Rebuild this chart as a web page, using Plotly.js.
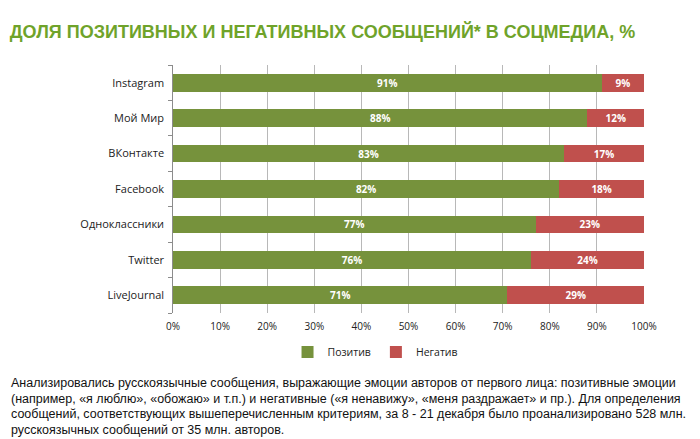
<!DOCTYPE html>
<html><head><meta charset="utf-8">
<script src="https://cdn.plot.ly/plotly-3.0.1.min.js"></script>
<style>body{margin:0;background:#fff}#c{width:700px;height:439px}</style>
</head><body><div id="c"></div>
<script>
const categories = ['Instagram','Мой Мир','ВКонтакте','Facebook','Одноклассники','Twitter','LiveJournal'];
const positive = [91, 88, 83, 82, 77, 76, 71];
const negative = [9, 12, 17, 18, 23, 24, 29];
const tickVals = [0,10,20,30,40,50,60,70,80,90,100];
const tickText = tickVals.map(v => v + '%');
const noteLines = [
  'Анализировались русскоязычные сообщения, выражающие эмоции авторов от первого лица: позитивные эмоции',
  '(например, «я люблю», «обожаю» и т.п.) и негативные («я ненавижу», «меня раздражает» и пр.). Для определения',
  'сообщений, соответствующих вышеперечисленным критериям, за 8 - 21 декабря было проанализировано 528 млн.',
  'русскоязычных сообщений от 35 млн. авторов.'
];

const cats = categories.slice().reverse();
const pos = positive.slice().reverse();
const neg = negative.slice().reverse();

const lblFont = {family:'Open Sans, sans-serif', size:10, color:'#ffffff'};
const traces = [
  {type:'bar', orientation:'h', name:'Позитив', y:cats, x:pos, marker:{color:'#76923c'},
   text:pos.map(v=>'<b>'+v+'%</b>'), textposition:'inside', insidetextanchor:'middle', constraintext:'none', textfont:lblFont, width:0.5, hoverinfo:'none'},
  {type:'bar', orientation:'h', name:'Негатив', y:cats, x:neg, marker:{color:'#c0504d'},
   text:neg.map(v=>'<b>'+v+'%</b>'), textposition:'inside', insidetextanchor:'middle', constraintext:'none', textfont:lblFont, width:0.5, hoverinfo:'none'}
];
const plotH = 439 - 65 - 126;
const linePx = [383, 398.5, 414, 429.5];
const noteFont = {family:'Liberation Sans, Arial, sans-serif', size:12.5, color:'#111'};
const annotations = noteLines.map((t, i) => ({xref:'paper', yref:'paper', x:-(173-9)/471, y:(313 - linePx[i]) / plotH,
  xanchor:'left', yanchor:'middle', align:'left', showarrow:false, text:t, font:noteFont}));
const layout = {
  width:700, height:439, barmode:'stack', showlegend:true,
  margin:{l:173, r:56, t:65, b:126},
  paper_bgcolor:'#fff', plot_bgcolor:'#fff',
  title:{text:'<b>ДОЛЯ ПОЗИТИВНЫХ И НЕГАТИВНЫХ СООБЩЕНИЙ* В СОЦМЕДИА, %</b>', x:0.014, xanchor:'left', y:0.927, yanchor:'middle',
    font:{family:'Liberation Sans, Arial, sans-serif', size:18, color:'#6fa32a'}},
  xaxis:{range:[0,100], tickvals:tickVals, ticktext:tickText, showgrid:true, gridcolor:'#b8b8b8', gridwidth:1,
    zeroline:false, showline:false, ticks:'', ticklabelstandoff:6, tickfont:{family:'Open Sans, sans-serif', size:10, color:'#222'}, fixedrange:true},
  yaxis:{showline:true, linecolor:'#8c8c8c', ticks:'outside', tickson:'boundaries', ticklen:4, tickcolor:'#8c8c8c',
    tickfont:{family:'Open Sans, sans-serif', size:11, color:'#222'}, ticksuffix:'  ', fixedrange:true},
  legend:{orientation:'h', x:0.43, xanchor:'center', y:(313-352)/plotH, yanchor:'middle',
    font:{family:'Open Sans, sans-serif', size:10.5, color:'#222'}, itemwidth:30, traceorder:'normal'},
  annotations:annotations
};
Plotly.newPlot('c', traces, layout, {displayModeBar:false, staticPlot:true});
</script></body></html>
